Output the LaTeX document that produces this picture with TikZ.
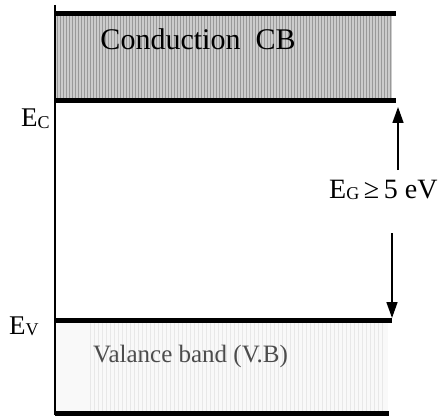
\documentclass[tikz,border=0pt]{standalone}
\usepackage{fontspec}
\setmainfont{Liberation Serif}
\usetikzlibrary{arrows.meta}
\tikzset{
  band edge/.style={line width=5pt},
  gap arrow/.style={line width=1.6pt,-{Triangle[width=11pt,length=16pt]}},
  label big/.style={anchor=base west,inner sep=0pt,font=\fontsize{27}{27}\selectfont},
}
\newcommand{\lowsub}[2]{\raisebox{-1.5pt}{\fontsize{#1}{#1}\selectfont #2}}
\begin{document}
\begin{tikzpicture}[x=1pt,y=-1pt]
\useasboundingbox (0,0) rectangle (444,417);
\fill[gray!40] (55,16) rectangle (392,99);
\foreach \x in {57,60,...,390} \draw[gray!80,line width=0.8pt] (\x,16) -- (\x,99);
\fill[gray!5] (55,323) rectangle (388,411);
\foreach \x in {90,94,...,384} \draw[gray!18,line width=0.6pt] (\x,323) -- (\x,411);

\draw[line width=1.3pt] (55,5) -- (55,415);
\draw[band edge] (55,14) -- (396,14);
\draw[band edge] (55,101) -- (396,101);
\draw[band edge] (55,320) -- (392,320);
\draw[band edge] (55,413) -- (389,413);

\node[anchor=base,font=\fontsize{30}{30}\selectfont] (cb) at (198,50) {Conduction\ \ CB};
\node[label big] (ec) at (21,127) {E\lowsub{18}{C}};
\node[label big] (ev) at (9,334) {E\lowsub{18}{V}};
\node[label big,font=\fontsize{28}{28}\selectfont] (eg) at (329,198) {E\lowsub{18}{G}\,≥\,5 eV};
\node[anchor=base west,inner sep=0pt,text=gray!60!black,font=\fontsize{25}{25}\selectfont] (vb) at (93,362) {Valance band (V.B)};

\coordinate (gup) at (398,170);
\coordinate (ctop) at (398,107);
\coordinate (gdown) at (392,233);
\coordinate (vtop) at (392,318);
\draw[gap arrow] (gup) -- (ctop);
\draw[gap arrow] (gdown) -- (vtop);
\end{tikzpicture}
\end{document}
